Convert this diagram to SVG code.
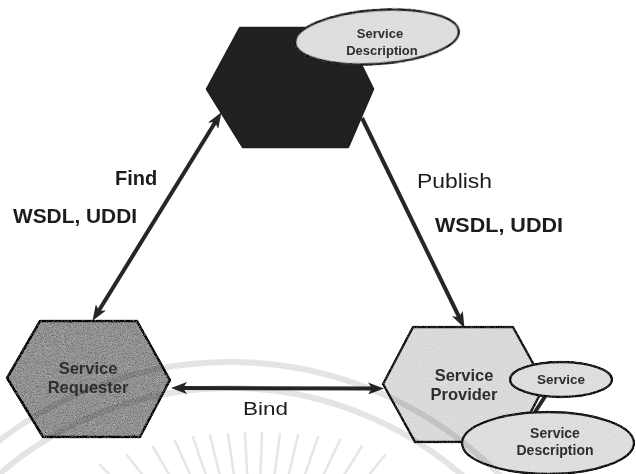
<svg xmlns="http://www.w3.org/2000/svg" width="636" height="474" viewBox="0 0 636 474">
  <style>
    .hex { stroke: #1f1f1f; stroke-width: 2.5; stroke-linejoin: round; }
    .oval { fill: #dedede; stroke: #1f1f1f; stroke-width: 2.4; }
    .nlabel { font-family: "Liberation Sans", Arial, sans-serif; font-weight: bold; text-anchor: middle; fill: #2e2e2e; }
    .clabel { font-family: "Liberation Sans", Arial, sans-serif; fill: #1c1c1c; }
    .edge { fill: none; stroke: #262626; stroke-width: 4; }
    .ring { fill: none; stroke: #e0e0e0; stroke-width: 6; }
    .ray { stroke: #e2e2e2; stroke-width: 2.5; stroke-linecap: round; }
  </style>
  <defs>
    <marker id="head" markerUnits="userSpaceOnUse" markerWidth="16" markerHeight="12" viewBox="0 0 16 12" refX="5" refY="6" orient="auto-start-reverse">
      <path d="M0,0 L16,6 L0,12 L4,6 z" fill="#262626"/>
    </marker>
    <!-- speckled print texture for fills -->
    <filter id="grain">
      <feTurbulence type="fractalNoise" baseFrequency="0.85" numOctaves="2" seed="4" result="noise"/>
      <feColorMatrix in="noise" type="matrix" values="0.33 0.33 0.33 0 0 0.33 0.33 0.33 0 0 0.33 0.33 0.33 0 0 0 0 0 0 1" result="gray"/>
      <feComposite in="SourceGraphic" in2="gray" operator="arithmetic" k1="0" k2="1" k3="0.3" k4="-0.15" result="mix"/>
      <feComposite in="mix" in2="SourceGraphic" operator="in"/>
    </filter>
    <filter id="grainHeavy">
      <feTurbulence type="fractalNoise" baseFrequency="1.1" numOctaves="2" seed="9" result="noise"/>
      <feColorMatrix in="noise" type="matrix" values="0.33 0.33 0.33 0 0 0.33 0.33 0.33 0 0 0.33 0.33 0.33 0 0 0 0 0 0 1" result="gray"/>
      <feComposite in="SourceGraphic" in2="gray" operator="arithmetic" k1="0" k2="1" k3="0.8" k4="-0.42" result="mix"/>
      <feComposite in="mix" in2="SourceGraphic" operator="in"/>
    </filter>
  </defs>

  <rect width="636" height="474" fill="#ffffff"/>

  <!-- registry (top) -->
  <g id="registry">
    <polygon class="hex" points="240,28 343,28 373,89 348,147 243,147 207,89" fill="#212121"/>
    <ellipse class="oval" cx="377" cy="37" rx="82" ry="27" transform="rotate(-4 377 37)" filter="url(#grain)"/>
    <text class="nlabel" x="380" y="38" font-size="13">Service</text>
    <text class="nlabel" x="382" y="55" font-size="13">Description</text>
  </g>

  <!-- requester (left) -->
  <g id="requester">
    <polygon class="hex" points="40,321 137,321 170,380 140,437 43,437 7,378" fill="#969696" filter="url(#grainHeavy)"/>
    <text class="nlabel" x="88" y="374" font-size="16.5">Service</text>
    <text class="nlabel" x="88" y="393" font-size="16.5">Requester</text>
  </g>

  <!-- provider (right) -->
  <g id="provider">
    <polygon class="hex" points="413,327 513,327 545,385 515,442 415,442 383,384" fill="#dadada" filter="url(#grain)"/>
    <text class="nlabel" x="464" y="381" font-size="16.5">Service</text>
    <text class="nlabel" x="464" y="400" font-size="16.5">Provider</text>
    <line x1="546" y1="395" x2="535" y2="412" stroke="#262626" stroke-width="4"/>
    <ellipse class="oval" cx="561" cy="379.5" rx="51" ry="17.5" filter="url(#grain)"/>
    <text class="nlabel" x="561" y="384" font-size="13.5">Service</text>
    <ellipse class="oval" cx="548" cy="443" rx="86" ry="31" filter="url(#grain)"/>
    <text class="nlabel" x="555" y="438" font-size="14">Service</text>
    <text class="nlabel" x="555" y="455" font-size="14">Description</text>
  </g>

  <!-- connectors -->
  <g id="connectors">
    <line class="edge" x1="215.7" y1="121.5" x2="98.3" y2="311.5" marker-start="url(#head)" marker-end="url(#head)"/>
    <line class="edge" x1="362" y1="118" x2="459.6" y2="318" marker-end="url(#head)"/>
    <line class="edge" x1="182" y1="388" x2="373" y2="388.5" marker-start="url(#head)" marker-end="url(#head)"/>
    <text class="clabel" x="115" y="185" font-size="20" font-weight="bold">Find</text>
    <text class="clabel" x="13" y="223" font-size="21" font-weight="bold" textLength="124" lengthAdjust="spacingAndGlyphs">WSDL, UDDI</text>
    <text class="clabel" x="417" y="188" font-size="20" textLength="75" lengthAdjust="spacingAndGlyphs">Publish</text>
    <text class="clabel" x="435" y="232" font-size="21" font-weight="bold" textLength="128" lengthAdjust="spacingAndGlyphs">WSDL, UDDI</text>
    <text class="clabel" x="243" y="415" font-size="19" textLength="45" lengthAdjust="spacingAndGlyphs">Bind</text>
  </g>

  <!-- faint seal printed across the lower half -->
  <g id="seal" style="mix-blend-mode: multiply" opacity="0.85">
    <circle class="ring" cx="230" cy="740" r="378"/>
    <circle class="ring" cx="230" cy="740" r="352"/>
    <line class="ray" x1="100" y1="465" x2="131.8" y2="496.8"/>
    <line class="ray" x1="127" y1="455" x2="154.6" y2="490.6"/>
    <line class="ray" x1="153" y1="447" x2="175.9" y2="485.8"/>
    <line class="ray" x1="175" y1="441" x2="193.4" y2="482"/>
    <line class="ray" x1="193" y1="437" x2="207.4" y2="479.6"/>
    <line class="ray" x1="210" y1="435" x2="220.6" y2="478.7"/>
    <line class="ray" x1="228" y1="434" x2="234.5" y2="478.5"/>
    <line class="ray" x1="245" y1="433" x2="247.4" y2="478"/>
    <line class="ray" x1="262" y1="433" x2="260.3" y2="478"/>
    <line class="ray" x1="280" y1="434" x2="274" y2="478.6"/>
    <line class="ray" x1="298" y1="435" x2="287.8" y2="478.8"/>
    <line class="ray" x1="318" y1="437" x2="303.3" y2="479.6"/>
    <line class="ray" x1="340" y1="440" x2="320.8" y2="480.7"/>
    <line class="ray" x1="362" y1="446" x2="338.4" y2="484.3"/>
    <line class="ray" x1="385" y1="455" x2="357" y2="490"/>
  </g>
</svg>
